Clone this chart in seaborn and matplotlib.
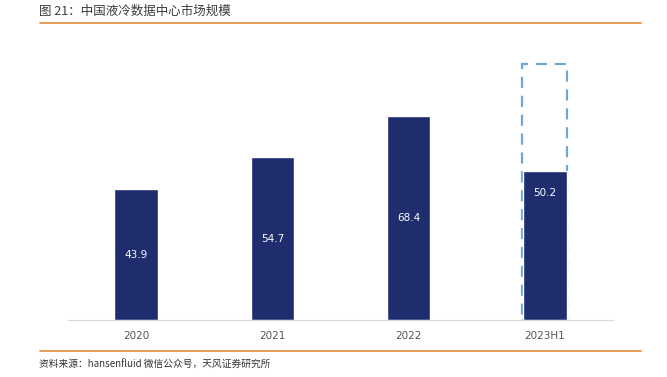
import numpy as np
import pandas as pd
import matplotlib
matplotlib.use('Agg')
import matplotlib.pyplot as plt
import seaborn as sns
from matplotlib.lines import Line2D

years = ['2020', '2021', '2022', '2023H1']
values = [43.9, 54.7, 68.4, 50.2]
# 2023 full-year estimate (dashed outline)
totals = [np.nan, np.nan, np.nan, 86.0]

df = pd.DataFrame({'year': years, 'value': values, 'total': totals})

sns.set_style('white')
plt.rcParams['font.family'] = ['Noto Sans CJK SC', 'DejaVu Sans']

fig = plt.figure(figsize=(6.67, 3.77), dpi=100)
ax = fig.add_axes([0.102, 0.151, 0.817, 0.711])

navy = '#1f2d6e'
sns.barplot(x='year', y='total', data=df, ax=ax, fill=False, width=0.33,
            edgecolor='#6ea6d6', linewidth=1.6, linestyle=(0, (5, 3.5)))
sns.barplot(x='year', y='value', data=df, ax=ax, color=navy, width=0.32,
            saturation=1)

bars = ax.containers[-1]
ax.bar_label(bars, labels=['43.9', '54.7', '68.4', ''], label_type='center',
             color='white', fontsize=7.5, family=['DejaVu Sans'])
ax.bar_label(bars, labels=['', '', '', '50.2'], label_type='edge', padding=-20,
             color='white', fontsize=7.5, family=['DejaVu Sans'])

ax.set_xlim(-0.5, 3.5)
ax.set_ylim(0, 90)
ax.set_xlabel('')
ax.set_ylabel('')
ax.set_yticks([])
for s in ['top', 'right', 'left']:
    ax.spines[s].set_visible(False)
ax.spines['bottom'].set_color('#d9d9d9')
ax.spines['bottom'].set_linewidth(0.8)
ax.tick_params(axis='x', length=0, pad=8, labelsize=7.5, labelcolor='#555555')
for t in ax.get_xticklabels():
    t.set_family(['DejaVu Sans'])

orange = '#e8883a'
fig.add_artist(Line2D([0.06, 0.961], [0.939, 0.939], color=orange, lw=1.2))
fig.add_artist(Line2D([0.06, 0.961], [0.069, 0.069], color=orange, lw=1.2))

fig.text(0.058, 0.971, '图 21：中国液冷数据中心市场规模', fontsize=9,
         color='#3a3a3a', va='center', ha='left')
fig.text(0.058, 0.032, '资料来源：hansenfluid 微信公众号，天风证券研究所', fontsize=7,
         color='#333333', va='center', ha='left')

fig.savefig('out.png', dpi=100)
